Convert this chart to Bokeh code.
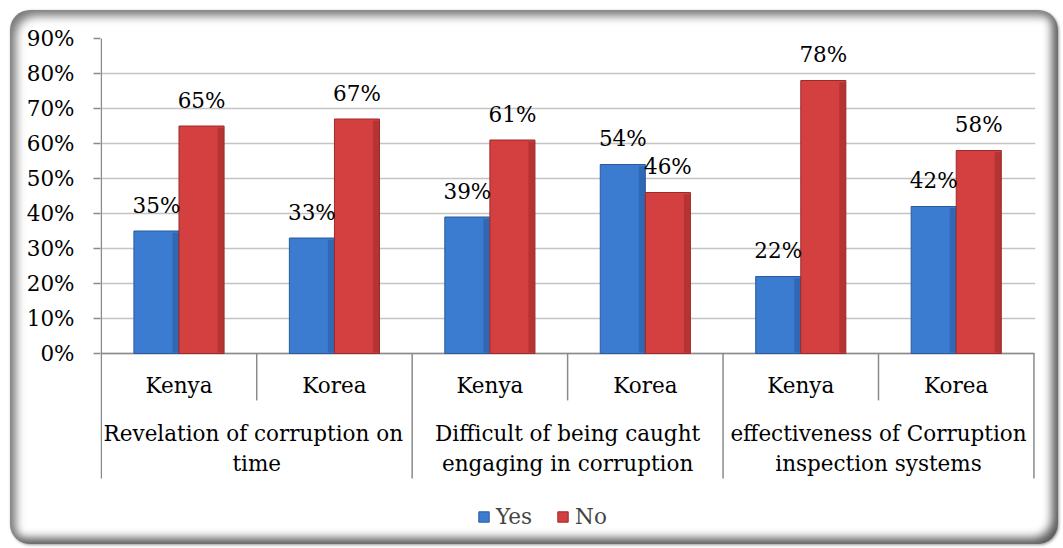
from bokeh.plotting import figure
from bokeh.models import FixedTicker, PrintfTickFormatter, Legend, LegendItem, Range1d
from bokeh.core.properties import value
from bokeh.embed import file_html
from bokeh.resources import INLINE

# ---- data ----
groups = ["Revelation of corruption  on\ntime",
          "Difficult of being caught\nengaging in corruption",
          "effectiveness of Corruption\ninspection systems"]
countries = ["Kenya", "Korea", "Kenya", "Korea", "Kenya", "Korea"]
yes_pct = [35, 33, 39, 54, 22, 42]
no_pct = [65, 67, 61, 46, 78, 58]
y_ticks = [0, 10, 20, 30, 40, 50, 60, 70, 80, 90]
series_names = ["Yes", "No"]

FONT = "DejaVu Serif"
FS = "21.5px"
BLUE, BLUE_D = "#3b7bd0", "#2a5a9c"
RED, RED_D = "#d43f3f", "#9c2a2a"
GRID = "#c4c4c4"
AX = "#8a8a8a"
Y_BOTTOM = -52.0
SEP_LOW = -35.7

p = figure(width=1048, height=534, output_backend="svg", toolbar_location=None,
           x_range=Range1d(-0.005, 6.01), y_range=Range1d(Y_BOTTOM, 90),
           min_border_left=90, min_border_top=28, min_border_right=23, min_border_bottom=9,
           tools="")
p.styles = {"margin-left": "10px", "margin-top": "10px", "border-radius": "20px",
            "overflow": "hidden", "background": "white",
            "box-shadow": "inset 6px 6px 10px #7a7a7a, inset -6px -6px 10px #5a5a5a, 1px 1px 3px #999"}
p.background_fill_color = None
p.border_fill_color = None
p.outline_line_color = None

p.xaxis.visible = False
p.xgrid.visible = False
p.ygrid.ticker = FixedTicker(ticks=y_ticks)
p.ygrid.grid_line_color = GRID
p.ygrid.grid_line_width = 1.5

ya = p.yaxis[0]
ya.ticker = FixedTicker(ticks=y_ticks)
ya.formatter = PrintfTickFormatter(format="%d%%")
ya.axis_line_color = None
ya.major_tick_line_color = AX
ya.major_tick_line_width = 1.5
ya.major_tick_out = 7
ya.major_tick_in = 0
ya.minor_tick_line_color = None
ya.major_label_standoff = 19
ya.major_label_text_font = FONT
ya.major_label_text_font_size = FS
ya.major_label_text_color = "#000000"

n = len(countries)
xc = [i + 0.5 for i in range(n)]
BW = 0.29
yes_x = [c - BW / 2 for c in xc]
no_x = [c + BW / 2 for c in xc]

# value axis line and zero line
p.segment(x0=[0], y0=[0], x1=[0], y1=[y_ticks[-1]], line_color=AX, line_width=1.5)
p.segment(x0=[0], y0=[0], x1=[n], y1=[0], line_color=AX, line_width=1.5)

# category separators
sep_small = [i for i in range(n + 1) if i % 2 == 1]
sep_big = [i for i in range(n + 1) if i % 2 == 0]
p.segment(x0=sep_small, y0=[0] * len(sep_small), x1=sep_small, y1=[-13.4] * len(sep_small),
          line_color=AX, line_width=1.5)
p.segment(x0=sep_big, y0=[0] * len(sep_big), x1=sep_big, y1=[SEP_LOW] * len(sep_big),
          line_color=AX, line_width=1.5)

# bars (with a darker right edge strip for a bevelled look)
r_yes = p.vbar(x=yes_x, top=yes_pct, bottom=0, width=BW, fill_color=BLUE,
               line_color=BLUE_D, line_width=1)
p.vbar(x=[v + BW / 2 - 0.022 for v in yes_x], top=[t - 0.5 for t in yes_pct], bottom=0.3,
       width=0.04, fill_color=BLUE_D, fill_alpha=0.55, line_color=None)
r_no = p.vbar(x=no_x, top=no_pct, bottom=0, width=BW, fill_color=RED,
              line_color=RED_D, line_width=1)
p.vbar(x=[v + BW / 2 - 0.022 for v in no_x], top=[t - 0.5 for t in no_pct], bottom=0.3,
       width=0.04, fill_color=RED_D, fill_alpha=0.55, line_color=None)

# data labels
p.text(x=yes_x, y=yes_pct, text=[f"{v}%" for v in yes_pct], text_align="center",
       text_baseline="middle", y_offset=-26, text_font=value(FONT),
       text_font_size=FS, text_color="#000000")
p.text(x=no_x, y=no_pct, text=[f"{v}%" for v in no_pct], text_align="center",
       text_baseline="middle", y_offset=-26, text_font=value(FONT),
       text_font_size=FS, text_color="#000000")

# category labels
p.text(x=xc, y=[-9.1] * n, text=countries, text_align="center", text_baseline="middle",
       text_font=value(FONT), text_font_size=FS, text_color="#000000")
gx = [2 * i + 1 for i in range(len(groups))]
line1 = [g.split("\n")[0] for g in groups]
line2 = [g.split("\n")[1] for g in groups]
p.text(x=gx, y=[-22.9] * len(gx), text=line1, text_align="center", text_baseline="middle",
       text_font=value(FONT), text_font_size=FS, text_color="#000000")
p.text(x=gx, y=[-31.4] * len(gx), text=line2, text_align="center", text_baseline="middle",
       text_font=value(FONT), text_font_size=FS, text_color="#000000")

legend = Legend(items=[LegendItem(label=series_names[0], renderers=[r_yes]),
                       LegendItem(label=series_names[1], renderers=[r_no])],
                orientation="horizontal", location=(377, 6))
legend.label_text_font = FONT
legend.label_text_font_size = FS
legend.glyph_width = 13
legend.glyph_height = 13
legend.label_standoff = 6
legend.spacing = 24
legend.padding = 0
legend.margin = 0
legend.border_line_color = None
legend.background_fill_color = None
p.add_layout(legend, "center")

open("out.html", "w").write(file_html(p, INLINE))
